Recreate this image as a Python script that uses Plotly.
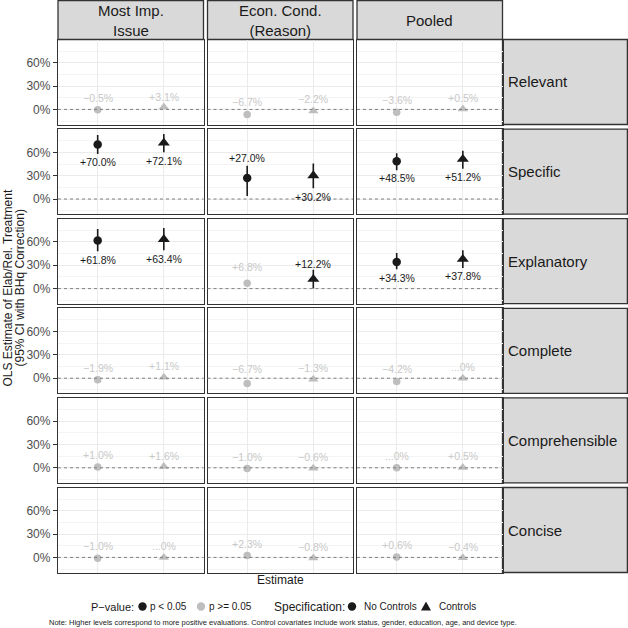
import plotly.graph_objects as go

W, H = 628, 628
FONT = "Liberation Sans, Arial, sans-serif"

# ---- data ----
columns = ["Most Imp.<br>Issue", "Econ. Cond.<br>(Reason)", "Pooled"]
rows = ["Relevant", "Specific", "Explanatory", "Complete", "Comprehensible", "Concise"]
specs = ["No Controls", "Controls"]

# estimates in percent, [row][column]
est_nc = [[-0.5, -6.7, -3.6], [70.0, 27.0, 48.5], [61.8, 6.8, 34.3],
          [-1.9, -6.7, -4.2], [1.0, -1.0, 0.0], [-1.0, 2.3, 0.6]]
est_c = [[3.1, -2.2, 0.5], [72.1, 30.2, 51.2], [63.4, 12.2, 37.8],
         [1.1, -1.3, 0.0], [1.6, -0.6, 0.5], [0.0, -0.8, -0.4]]

# BHq-corrected 95% CI (only shown for p < 0.05)
lo_nc = [[None] * 3, [57.8, 4.0, 37.0], [48.0, None, 25.0], [None] * 3, [None] * 3, [None] * 3]
hi_nc = [[None] * 3, [82.3, 42.7, 59.0], [76.6, None, 45.9], [None] * 3, [None] * 3, [None] * 3]
lo_c = [[None] * 3, [60.0, 13.8, 39.0], [49.4, 0.3, 26.5], [None] * 3, [None] * 3, [None] * 3]
hi_c = [[None] * 3, [83.7, 45.6, 62.0], [78.0, 24.4, 49.4], [None] * 3, [None] * 3, [None] * 3]

sig_nc = [[0, 0, 0], [1, 1, 1], [1, 0, 1], [0, 0, 0], [0, 0, 0], [0, 0, 0]]
sig_c = [[0, 0, 0], [1, 1, 1], [1, 1, 1], [0, 0, 0], [0, 0, 0], [0, 0, 0]]

lab_nc = [["\u22120.5%", "\u22126.7%", "\u22123.6%"], ["+70.0%", "+27.0%", "+48.5%"],
          ["+61.8%", "+6.8%", "+34.3%"], ["\u22121.9%", "\u22126.7%", "\u22124.2%"],
          ["+1.0%", "\u22121.0%", "...0%"], ["\u22121.0%", "+2.3%", "+0.6%"]]
lab_c = [["+3.1%", "\u22122.2%", "+0.5%"], ["+72.1%", "+30.2%", "+51.2%"],
         ["+63.4%", "+12.2%", "+37.8%"], ["+1.1%", "\u22121.3%", "...0%"],
         ["+1.6%", "\u22120.6%", "+0.5%"], ["...0%", "\u22120.8%", "\u22120.4%"]]

# label offsets (px, repel-like placement)
shift_nc = [[12, 13, 12], [-17, 20, -17], [-19, 16, -16], [12, 14, 12], [12, 12, 12], [12, 12, 12]]
shift_c = [[10, 12, 11], [-18, -21, -18], [-20, 15, -17], [11, 11, 11], [11, 11, 11], [11, 11, 11]]

y_ticks = [0, 30, 60]
y_ticktext = ["0%", "30%", "60%"]
y_minor = [-15, 15, 45, 75]

# ---- geometry (pixels) ----
def px(x):
    return x / W

def py(y):
    return 1 - y / H

col_left = [58 + j * 149.5 for j in range(3)]
col_w = 145.5
row_top = [39.5 + i * 89.6 for i in range(6)]
row_h = 85

BLACK = "#1A1A1A"
GREY_PT = "#BEBEBE"
GREY_TX = "#C8C8C8"
BORDER = "#333333"

fig = go.Figure()
layout = dict(width=W, height=H, margin=dict(l=0, r=0, t=0, b=0), autosize=False,
              paper_bgcolor="white", plot_bgcolor="rgba(0,0,0,0)", showlegend=False,
              font=dict(family=FONT, color=BLACK))
annotations = []
shapes = []

n = 0
for i, rname in enumerate(rows):
    for j, cname in enumerate(columns):
        n += 1
        sfx = "" if n == 1 else str(n)
        xa, ya = "x" + sfx, "y" + sfx
        layout["xaxis" + sfx] = dict(domain=[px(col_left[j]), px(col_left[j] + col_w)], anchor=ya,
                                     type="category", categoryorder="array", categoryarray=specs,
                                     range=[-0.6, 1.6], showticklabels=False, ticks="",
                                     showgrid=True, gridcolor="#EBEBEB", gridwidth=1,
                                     showline=True, mirror=True, linecolor=BORDER, linewidth=1.3,
                                     zeroline=False, automargin=False, fixedrange=True)
        layout["yaxis" + sfx] = dict(domain=[py(row_top[i] + row_h), py(row_top[i])], anchor=xa,
                                     range=[-19.4, 89.9], tickmode="array",
                                     tickvals=y_ticks, ticktext=y_ticktext,
                                     showticklabels=(j == 0), ticks="outside" if j == 0 else "",
                                     ticklen=4, tickwidth=1, tickcolor=BORDER,
                                     tickfont=dict(size=12, color="#4D4D4D", family=FONT),
                                     showgrid=True, gridcolor="#EBEBEB", gridwidth=1,
                                     minor=dict(tickvals=y_minor, showgrid=True, gridcolor="#F4F4F4",
                                                gridwidth=0.6, ticks=""),
                                     showline=True, mirror=True, linecolor=BORDER, linewidth=1.3,
                                     zeroline=False, automargin=False, fixedrange=True)

        shapes.append(dict(type="line", xref=xa + " domain", yref=ya, x0=0, x1=1, y0=0, y1=0,
                           line=dict(color="#7F7F7F", width=1, dash="3px,3px"), layer="above"))

        for k, (est, lo, hi, sig, lab, sh, sym) in enumerate([
                (est_nc, lo_nc, hi_nc, sig_nc, lab_nc, shift_nc, "circle"),
                (est_c, lo_c, hi_c, sig_c, lab_c, shift_c, "triangle-up")]):
            v = est[i][j]
            s = sig[i][j]
            tr = dict(x=[specs[k]], y=[v], xaxis=xa, yaxis=ya, mode="markers",
                      hoverinfo="skip")
            if s:
                tr["marker"] = dict(symbol=sym, size=8.5 if k == 0 else 10.5, color=BLACK)
                tr["error_y"] = dict(type="data", symmetric=False,
                                     array=[hi[i][j] - v], arrayminus=[v - lo[i][j]],
                                     color=BLACK, thickness=1.6, width=0)
            else:
                tr["marker"] = dict(symbol=sym, size=7.5 if k == 0 else 9, color=GREY_PT)
            fig.add_trace(go.Scatter(**tr))
            annotations.append(dict(xref=xa, yref=ya, x=k, y=v, text=lab[i][j],
                                    showarrow=False, yshift=sh[i][j],
                                    font=dict(size=10.5, color=BLACK if s else GREY_TX)))

# ---- strips ----
for j, cname in enumerate(columns):
    shapes.append(dict(type="rect", xref="paper", yref="paper",
                       x0=px(col_left[j]), x1=px(col_left[j] + col_w), y0=py(39.5), y1=py(0.6),
                       fillcolor="#D9D9D9", line=dict(color=BORDER, width=1.3), layer="below"))
    annotations.append(dict(xref="paper", yref="paper", x=px(col_left[j] + col_w / 2), y=py(20.5),
                            text=cname, showarrow=False, xanchor="center", yanchor="middle",
                            font=dict(size=15, color=BLACK)))
for i, rname in enumerate(rows):
    shapes.append(dict(type="rect", xref="paper", yref="paper",
                       x0=px(col_left[2] + col_w), x1=px(627.4), y0=py(row_top[i] + row_h),
                       y1=py(row_top[i]),
                       fillcolor="#D9D9D9", line=dict(color=BORDER, width=1.3), layer="below"))
    annotations.append(dict(xref="paper", yref="paper", x=px(506), y=py(row_top[i] + row_h / 2),
                            text=rname, showarrow=False, xanchor="left", yanchor="middle",
                            font=dict(size=15, color=BLACK)))

# ---- axis titles ----
for xt, t in [(7.5, "OLS Estimate of Elab/Rel. Treatment"), (19.5, "(95% CI with BHq Correction)")]:
    annotations.append(dict(xref="paper", yref="paper", x=px(xt), y=py(288), textangle=-90,
                            text=t, showarrow=False, xanchor="center", yanchor="middle",
                            font=dict(size=12, color=BLACK)))
annotations.append(dict(xref="paper", yref="paper", x=px(280.5), y=py(580), text="Estimate",
                        showarrow=False, xanchor="center", yanchor="middle",
                        font=dict(size=12, color=BLACK)))

# ---- legend (drawn by hand, ggplot style) ----
LY = 606.5
leg_text = [(89, "P\u2212value:", 11), (148, "p < 0.05", 10), (207, "p >= 0.05", 10),
            (272, "Specification:", 12), (362, "No Controls", 10), (437, "Controls", 10)]
for x0, t, sz in leg_text:
    annotations.append(dict(xref="paper", yref="paper", x=px(x0), y=py(LY), text=t,
                            showarrow=False, xanchor="left", yanchor="middle",
                            font=dict(size=sz, color=BLACK)))
for cx, col in [(142.5, BLACK), (201, GREY_PT), (352, BLACK)]:
    shapes.append(dict(type="circle", xref="paper", yref="paper", x0=px(cx - 4.2), x1=px(cx + 4.2),
                       y0=py(LY + 4.2), y1=py(LY - 4.2), fillcolor=col, line=dict(width=0)))
tx = 426
shapes.append(dict(type="path", xref="paper", yref="paper",
                   path=f"M {px(tx - 5)},{py(LY + 4)} L {px(tx + 5)},{py(LY + 4)} L {px(tx)},{py(LY - 5)} Z",
                   fillcolor=BLACK, line=dict(width=0)))

annotations.append(dict(xref="paper", yref="paper", x=px(283), y=py(622),
                        text="Note: Higher levels correspond to more positive evaluations. Control covariates "
                             "include work status, gender, education, age, and device type.",
                        showarrow=False, xanchor="center", yanchor="middle",
                        font=dict(size=7.5, color=BLACK)))

layout["annotations"] = annotations
layout["shapes"] = shapes
fig.update_layout(**layout)

# drop the default 8px page margin so the figure sits at the window corner
fig.write_html("out.html", config={"displayModeBar": False},
               post_script="document.body.style.margin='0px';")
